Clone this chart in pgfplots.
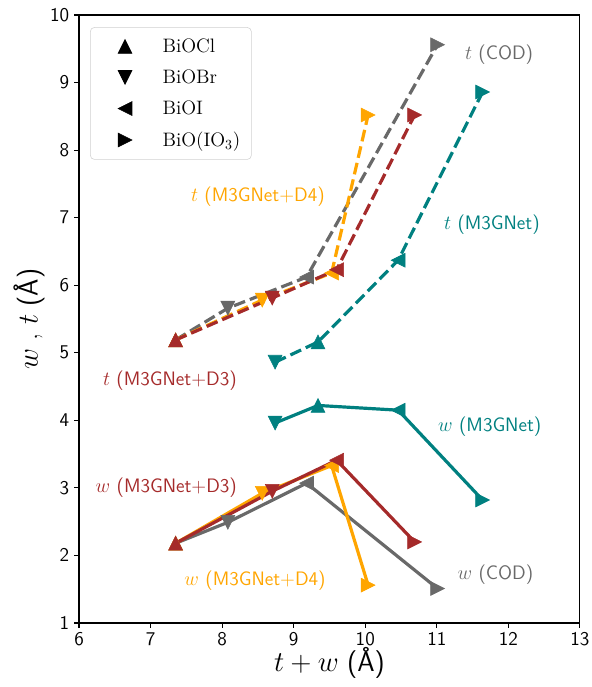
\documentclass[border=0pt]{standalone}
\usepackage{pgfplots}
\usepackage{pgfplotstable}
\pgfplotsset{compat=1.18}
\definecolor{cgrey}{RGB}{105,105,105}
\definecolor{cbrown}{RGB}{165,42,42}
\definecolor{corange}{RGB}{255,165,0}
\definecolor{cteal}{RGB}{0,128,128}

\pgfdeclareplotmark{tup}{%
  \pgfpathmoveto{\pgfqpoint{0pt}{\pgfplotmarksize}}%
  \pgfpathlineto{\pgfqpoint{-\pgfplotmarksize}{-\pgfplotmarksize}}%
  \pgfpathlineto{\pgfqpoint{\pgfplotmarksize}{-\pgfplotmarksize}}%
  \pgfpathclose
  \pgfusepathqfillstroke}
\pgfdeclareplotmark{tdn}{%
  \pgfpathmoveto{\pgfqpoint{0pt}{-\pgfplotmarksize}}%
  \pgfpathlineto{\pgfqpoint{-\pgfplotmarksize}{\pgfplotmarksize}}%
  \pgfpathlineto{\pgfqpoint{\pgfplotmarksize}{\pgfplotmarksize}}%
  \pgfpathclose
  \pgfusepathqfillstroke}
\pgfdeclareplotmark{tlf}{%
  \pgfpathmoveto{\pgfqpoint{-\pgfplotmarksize}{0pt}}%
  \pgfpathlineto{\pgfqpoint{\pgfplotmarksize}{\pgfplotmarksize}}%
  \pgfpathlineto{\pgfqpoint{\pgfplotmarksize}{-\pgfplotmarksize}}%
  \pgfpathclose
  \pgfusepathqfillstroke}
\pgfdeclareplotmark{trt}{%
  \pgfpathmoveto{\pgfqpoint{\pgfplotmarksize}{0pt}}%
  \pgfpathlineto{\pgfqpoint{-\pgfplotmarksize}{\pgfplotmarksize}}%
  \pgfpathlineto{\pgfqpoint{-\pgfplotmarksize}{-\pgfplotmarksize}}%
  \pgfpathclose
  \pgfusepathqfillstroke}

\pgfplotstableread{
x y c
7.35 5.19 up
8.08 5.66 dn
9.18 6.12 lf
11.01 9.56 rt
}\codT
\pgfplotstableread{
x y c
7.35 2.18 up
8.08 2.49 dn
9.18 3.07 lf
11.01 1.51 rt
}\codW
\pgfplotstableread{
x y c
8.74 4.86 dn
9.34 5.16 up
10.46 6.37 lf
11.64 8.86 rt
}\mT
\pgfplotstableread{
x y c
8.74 3.96 dn
9.34 4.22 up
10.46 4.15 lf
11.64 2.82 rt
}\mW
\pgfplotstableread{
x y c
7.35 5.19 up
8.56 5.78 dn
9.53 6.18 lf
10.04 8.52 rt
}\dfT
\pgfplotstableread{
x y c
7.35 2.18 up
8.56 2.92 dn
9.53 3.33 lf
10.04 1.56 rt
}\dfW
\pgfplotstableread{
x y c
7.35 5.19 up
8.70 5.81 dn
9.60 6.23 lf
10.69 8.52 rt
}\dtT
\pgfplotstableread{
x y c
7.35 2.18 up
8.70 2.95 dn
9.60 3.41 lf
10.69 2.20 rt
}\dtW

\pgfplotsset{
  tri/.style={scatter, scatter src=explicit symbolic, mark size=5pt,
    mark options={solid, line width=0.4pt},
    scatter/classes={
      up={mark=tup},
      dn={mark=tdn},
      lf={mark=tlf},
      rt={mark=trt}},
    forget plot},
  tline/.style={tri, line width=2.3pt, dash pattern=on 8.5pt off 3.7pt},
  wline/.style={tri, line width=2.3pt, solid},
}

\begin{document}
\begin{tikzpicture}
\begin{axis}[
  scale only axis,
  width=360.7pt, height=437.8pt,
  xmin=6, xmax=13, ymin=1, ymax=10,
  xtick={6,...,13}, ytick={1,...,10},
  tick align=outside, tick pos=left,
  major tick length=3.5pt,
  every tick/.style={black, line width=0.8pt},
  axis line style={line width=0.8pt},
  tick label style={font=\sffamily\fontsize{14}{17}\selectfont},
  /pgf/number format/assume math mode=true,
  xlabel={$t+w$ \textsf{(\AA)}},
  ylabel={$w$ ,\ $t$ \textsf{(\AA)}},
  label style={font=\fontsize{20}{24}\selectfont},
  xlabel style={at={(axis description cs:0.5,-0.066)}, anchor=center},
  ylabel style={at={(axis description cs:-0.1,0.5)}, anchor=center},
  legend style={at={(axis description cs:0.022,0.98)}, anchor=north west,
    draw=black!18, rounded corners=3pt, fill=white,
    font=\fontsize{14}{17}\selectfont, row sep=7pt, inner xsep=6pt, inner ysep=6pt},
  legend cell align=left,
  legend image code/.code={\path[draw=none] (0pt,0pt) (44pt,0pt); \path[#1, draw=none] plot coordinates {(19pt,0pt)};},
]
\addlegendimage{black, only marks, mark=tup, mark size=5pt}
\addlegendentry{BiOCl}
\addlegendimage{black, only marks, mark=tdn, mark size=5pt}
\addlegendentry{BiOBr}
\addlegendimage{black, only marks, mark=tlf, mark size=5pt}
\addlegendentry{BiOI}
\addlegendimage{black, only marks, mark=trt, mark size=5pt}
\addlegendentry{BiO(IO$_3$)}

\addplot[cgrey, tline] table[x=x, y=y, meta=c] {\codT};
\addplot[cgrey, wline] table[x=x, y=y, meta=c] {\codW};
\addplot[cteal, tline] table[x=x, y=y, meta=c] {\mT};
\addplot[cteal, wline] table[x=x, y=y, meta=c] {\mW};
\addplot[corange, tline] table[x=x, y=y, meta=c] {\dfT};
\addplot[corange, wline] table[x=x, y=y, meta=c] {\dfW};
\addplot[cbrown, tline] table[x=x, y=y, meta=c] {\dtT};
\addplot[cbrown, wline] table[x=x, y=y, meta=c] {\dtW};

\begin{scope}[every node/.style={font=\fontsize{14}{17}\selectfont}]
\node[cgrey] at (axis cs:11.87,9.41) {$t$ \textsf{(COD)}};
\node[corange] at (axis cs:8.50,7.31) {$t$ \textsf{(M3GNet+D4)}};
\node[cteal] at (axis cs:11.77,6.90) {$t$ \textsf{(M3GNet)}};
\node[cbrown] at (axis cs:7.27,4.59) {$t$ \textsf{(M3GNet+D3)}};
\node[cteal] at (axis cs:11.74,3.91) {$w$ \textsf{(M3GNet)}};
\node[cbrown] at (axis cs:7.22,3.01) {$w$ \textsf{(M3GNet+D3)}};
\node[corange] at (axis cs:8.46,1.63) {$w$ \textsf{(M3GNet+D4)}};
\node[cgrey] at (axis cs:11.82,1.71) {$w$ \textsf{(COD)}};
\end{scope}
\end{axis}
\pgfresetboundingbox
\path[use as bounding box] ([xshift=-56.9pt,yshift=-46.1pt]current axis.south west) rectangle ([xshift=8.6pt,yshift=10.8pt]current axis.north east);
\end{tikzpicture}
\end{document}
